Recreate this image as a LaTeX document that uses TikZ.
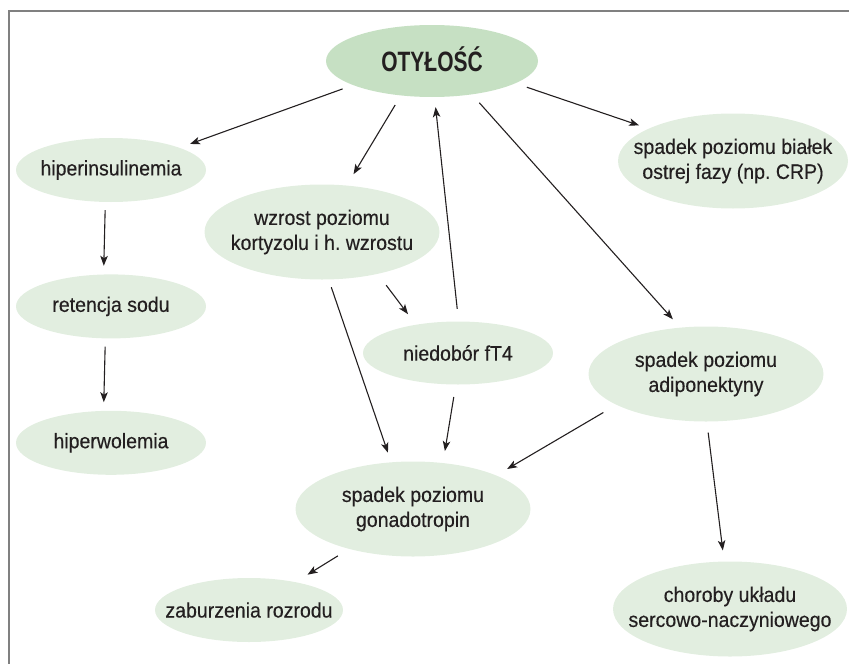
\documentclass[tikz,border=0pt]{standalone}
\usepackage{fontspec}
\setmainfont{Liberation Sans}[FakeStretch=0.93, FakeBold=0.3]
\newfontfamily\titlefont{Liberation Sans}[FakeStretch=0.75]
\usepackage{tikz}
\usetikzlibrary{positioning}
\usetikzlibrary{arrows.meta}
\usetikzlibrary{shapes.geometric}
\definecolor{mainfill}{RGB}{198,224,195}
\definecolor{boxfill}{RGB}{226,238,224}
\definecolor{inkcol}{RGB}{35,31,32}
\definecolor{framecol}{RGB}{128,128,128}
\frenchspacing

\begin{document}
\begin{tikzpicture}[x=1pt,y=-1pt,
mainnode/.style={ellipse, fill=mainfill, text=inkcol, inner xsep=-60pt, inner ysep=-20pt, minimum width=212pt, minimum height=72pt, text height=20pt, text depth=0pt, font=\titlefont\bfseries\fontsize{28}{30}\selectfont},
smallnode/.style={ellipse, fill=boxfill, text=inkcol, inner xsep=-60pt, inner ysep=-20pt, minimum width=190pt, minimum height=64pt, align=center, font=\fontsize{21}{25}\selectfont},
bignode/.style={smallnode, minimum width=235pt, minimum height=95pt},
arr/.style={-{Stealth[length=10pt,width=7.5pt,inset=2.5pt]}, line width=1.1pt, inkcol, shorten <=11pt, shorten >=11pt},
node distance=72pt,
]
\useasboundingbox (0,0) rectangle (849,664);
\draw[framecol, line width=2pt] (849,11) -- (9,11) -- (9,664);

%Nodes
\node[mainnode]  (oty)    at (432,61)  {OTYŁOŚĆ};
\node[smallnode] (hiper)  at (111,170) {hiperinsulinemia};
\node[smallnode] (ret)    [below=of hiper] {retencja sodu};
\node[smallnode] (hwol)   [below=of ret]   {hiperwolemia};
\node[bignode]   (wzrost) at (322,232) {wzrost poziomu\\kortyzolu i h. wzrostu};
\node[smallnode, minimum height=63pt] (niedo) at (458,353) {niedobór fT4};
\node[bignode, minimum width=230pt] (bialek) at (733,161) {spadek poziomu białek\\ostrej fazy (np. CRP)};
\node[bignode]   (adipo)  at (706,374) {spadek poziomu\\adiponektyny};
\node[bignode]   (gonad)  at (413,509) {spadek poziomu\\gonadotropin};
\node[smallnode, minimum width=188pt] (zabur) at (249,610) {zaburzenia rozrodu};
\node[bignode, minimum width=234pt] (chor) at (730,609) {choroby układu\\sercowo-naczyniowego};

%Lines
\draw[arr] (oty.197) -- (hiper.18);
\draw[arr, shorten >=13pt] (oty.228) -- (wzrost.62);
\draw[arr, shorten <=12.5pt, shorten >=10pt] (niedo.89) -- (oty.274);
\draw[arr, shorten <=12pt, shorten >=10pt] (oty.-15) -- (bialek.159);
\draw[arr] (oty.-40) -- (adipo.119);
\draw[arr, shorten <=8pt, shorten >=8.5pt] (hiper.260) -- (ret.103);
\draw[arr, shorten <=8pt, shorten >=8.5pt] (ret.260) -- (hwol.103);
\draw[arr, shorten <=14pt, shorten >=13pt] (wzrost.-37) -- (niedo.146);
\draw[arr, shorten <=8pt, shorten >=10pt] (wzrost.-82) -- (gonad.115);
\draw[arr, shorten <=12.5pt, shorten >=12pt] (niedo.266) -- (gonad.57);
\draw[arr, shorten <=15pt, shorten >=12.5pt] (adipo.199) -- (gonad.22);
\draw[arr] (adipo.271) -- (chor.97);
\draw[arr, shorten <=13pt, shorten >=14pt] (gonad.212) -- (zabur.31);
\end{tikzpicture}
\end{document}
